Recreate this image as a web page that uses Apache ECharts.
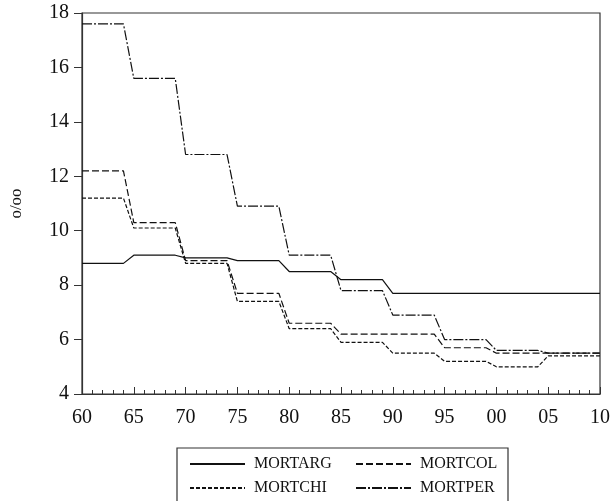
<!DOCTYPE html>
<html><head><meta charset="utf-8">
<script src="https://cdn.jsdelivr.net/npm/echarts@6/dist/echarts.min.js"></script>
<style>html,body{margin:0;padding:0;background:#fff}#c{width:613px;height:501px}</style>
</head><body><div id="c"></div>
<script>
const years = [1960,1961,1962,1963,1964,1965,1966,1967,1968,1969,1970,1971,1972,1973,1974,1975,1976,1977,1978,1979,1980,1981,1982,1983,1984,1985,1986,1987,1988,1989,1990,1991,1992,1993,1994,1995,1996,1997,1998,1999,2000,2001,2002,2003,2004,2005,2006,2007,2008,2009,2010];
const mortArg = [8.8,8.8,8.8,8.8,8.8, 9.1,9.1,9.1,9.1,9.1, 9.0,9.0,9.0,9.0,9.0, 8.9,8.9,8.9,8.9,8.9, 8.5,8.5,8.5,8.5,8.5, 8.2,8.2,8.2,8.2,8.2, 7.7,7.7,7.7,7.7,7.7, 7.7,7.7,7.7,7.7,7.7, 7.7,7.7,7.7,7.7,7.7, 7.7,7.7,7.7,7.7,7.7,7.7];
const mortCol = [12.2,12.2,12.2,12.2,12.2, 10.3,10.3,10.3,10.3,10.3, 8.9,8.9,8.9,8.9,8.9, 7.7,7.7,7.7,7.7,7.7, 6.6,6.6,6.6,6.6,6.6, 6.2,6.2,6.2,6.2,6.2, 6.2,6.2,6.2,6.2,6.2, 5.7,5.7,5.7,5.7,5.7, 5.5,5.5,5.5,5.5,5.5, 5.5,5.5,5.5,5.5,5.5,5.5];
const mortChi = [11.2,11.2,11.2,11.2,11.2, 10.1,10.1,10.1,10.1,10.1, 8.8,8.8,8.8,8.8,8.8, 7.4,7.4,7.4,7.4,7.4, 6.4,6.4,6.4,6.4,6.4, 5.9,5.9,5.9,5.9,5.9, 5.5,5.5,5.5,5.5,5.5, 5.2,5.2,5.2,5.2,5.2, 5.0,5.0,5.0,5.0,5.0, 5.4,5.4,5.4,5.4,5.4,5.4];
const mortPer = [17.6,17.6,17.6,17.6,17.6, 15.6,15.6,15.6,15.6,15.6, 12.8,12.8,12.8,12.8,12.8, 10.9,10.9,10.9,10.9,10.9, 9.1,9.1,9.1,9.1,9.1, 7.8,7.8,7.8,7.8,7.8, 6.9,6.9,6.9,6.9,6.9, 6.0,6.0,6.0,6.0,6.0, 5.6,5.6,5.6,5.6,5.6, 5.5,5.5,5.5,5.5,5.5,5.5];
const seriesNames = ['MORTARG','MORTCOL','MORTCHI','MORTPER'];
const yTicks = [4,6,8,10,12,14,16,18];
const yLabel = 'o/oo';

const font = '"Liberation Serif", "Times New Roman", serif';
const ink = '#111';
const dashes = ['solid', [7,3], [4,2], [10,2,2,2]];
const allData = [mortArg, mortCol, mortChi, mortPer];

const legendCommon = {
  orient: 'vertical', top: 456, height: 46, padding: 0,
  itemWidth: 55, itemHeight: 14, itemGap: 8,
  textStyle: {color: ink, fontFamily: font, fontSize: 16, padding: [0,0,0,4]},
  itemStyle: {opacity: 0, borderWidth: 0},
  selectedMode: false
};

const chart = echarts.init(document.getElementById('c'), null, {renderer:'canvas'});
chart.setOption({
  animation: false,
  backgroundColor: '#fff',
  grid: {left: 81, right: 10, top: 13, bottom: 107, show: true, borderColor: '#333', borderWidth: 1.2, backgroundColor: 'transparent'},
  xAxis: {
    type: 'value', min: 1960, max: 2010, interval: 5,
    axisLine: {lineStyle: {color: '#333', width: 1.2}},
    axisTick: {inside: true, length: 7, lineStyle: {color: '#333'}},
    minorTick: {show: true, splitNumber: 5, length: 4, lineStyle: {color: '#333'}},
    splitLine: {show: false},
    axisLabel: {margin: 14, color: ink, fontFamily: font, fontSize: 20, formatter: v => String(v).slice(2)}
  },
  yAxis: {
    type: 'value', min: yTicks[0], max: yTicks[yTicks.length-1], interval: 2,
    name: yLabel, nameLocation: 'middle', nameGap: 57, nameRotate: 90,
    nameTextStyle: {color: ink, fontFamily: font, fontSize: 17},
    axisLine: {show: true, lineStyle: {color: '#333', width: 1.2}},
    axisTick: {show: true, inside: false, length: 8, lineStyle: {color: '#333'}},
    splitLine: {show: false},
    axisLabel: {margin: 13, color: ink, fontFamily: font, fontSize: 20}
  },
  legend: [
    Object.assign({data: ['MORTARG','MORTCHI'], left: 189}, legendCommon),
    Object.assign({data: ['MORTCOL','MORTPER'], left: 355}, legendCommon)
  ],
  graphic: [{type: 'rect', shape: {x: 177, y: 448, width: 331, height: 60}, style: {fill: 'none', stroke: '#333', lineWidth: 1.2}, silent: true}],
  series: seriesNames.map((n, i) => ({
    name: n, type: 'line', symbol: 'none', showSymbol: false,
    data: years.map((y, k) => [y, allData[i][k]]),
    lineStyle: {color: ink, width: 1.2, type: dashes[i]},
    itemStyle: {color: ink}
  }))
});
</script></body></html>
